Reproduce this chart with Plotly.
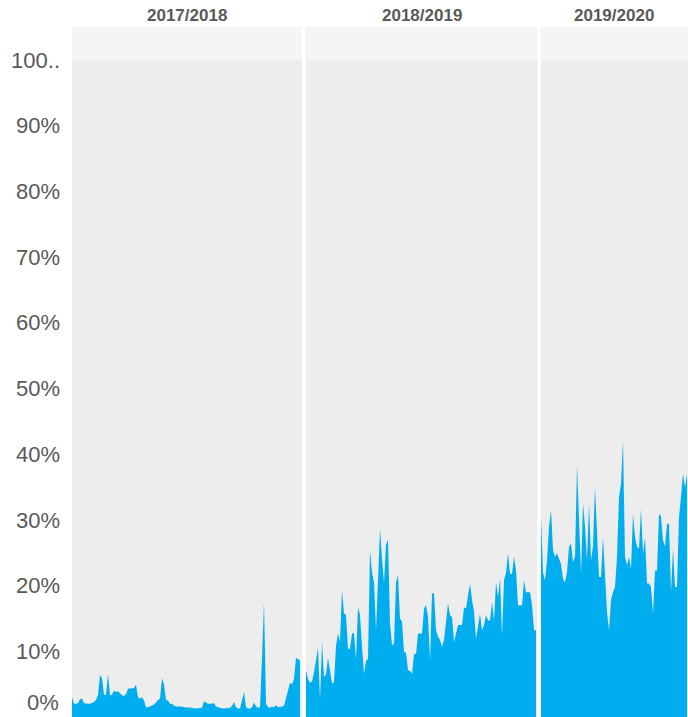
import plotly.graph_objects as go

# share of total per day, in percent, one list per school year
seasons = ["2017/2018", "2018/2019", "2019/2020"]

share_2017 = [
    3.0, 2.0, 2.0, 2.1, 2.7, 2.8, 2.1, 2.0, 2.0, 2.0, 2.1, 2.3, 2.6, 3.3, 6.4, 5.9,
    3.4, 3.4, 6.6, 3.3, 3.4, 4.0, 3.8, 3.9, 3.6, 3.3, 3.2, 3.5, 4.3, 4.3, 4.3, 4.4,
    4.9, 3.0, 2.8, 3.0, 2.5, 1.5, 1.5, 1.6, 1.7, 1.9, 2.2, 2.6, 2.8, 5.9, 5.0, 2.6,
    2.5, 2.0, 2.0, 1.7, 1.6, 1.6, 1.7, 1.6, 1.5, 1.5, 1.4, 1.4, 1.4, 1.3, 1.3, 1.3,
    1.3, 1.4, 2.4, 2.2, 2.0, 2.0, 2.0, 2.1, 1.6, 1.5, 1.3, 1.3, 1.3, 1.3, 1.3, 1.4,
    1.7, 2.3, 1.5, 1.3, 1.3, 2.5, 3.8, 1.5, 1.3, 1.3, 1.5, 2.2, 1.6, 1.4, 1.5, 9.0,
    17.5, 2.0, 1.5, 1.4, 1.6, 1.5, 1.8, 1.5, 1.5, 1.6, 1.7, 3.0, 4.2, 5.2, 5.0, 5.8,
    9.0, 8.8, 8.6,
]

share_2018 = [
    7.1, 5.8, 5.2, 5.4, 6.8, 8.4, 10.5, 2.6, 11.5, 6.1, 6.5, 9.0, 6.6, 5.1, 5.3, 10.8,
    12.7, 11.5, 19.3, 15.7, 15.6, 10.4, 10.4, 12.7, 12.8, 8.8, 16.7, 15.5, 10.7, 6.6,
    8.6, 8.8, 25.4, 22.0, 20.5, 13.2, 20.8, 28.7, 24.0, 20.5, 26.2, 27.0, 14.2, 10.9,
    11.2, 20.5, 21.6, 15.0, 14.5, 9.9, 9.8, 7.1, 7.0, 6.6, 9.6, 9.6, 12.7, 12.7, 12.7,
    16.5, 17.0, 15.2, 8.6, 18.8, 18.8, 13.2, 12.2, 11.7, 10.7, 11.7, 14.5, 17.3, 15.5,
    15.2, 11.4, 12.5, 14.0, 14.0, 14.0, 16.7, 16.5, 18.5, 20.3, 17.8, 16.0, 11.9, 13.5,
    15.7, 13.2, 14.0, 15.5, 14.7, 14.7, 17.5, 14.7, 20.5, 18.3, 21.1, 12.4, 20.8, 22.0,
    24.9, 21.8, 21.8, 24.4, 22.3, 17.0, 17.0, 17.0, 20.8, 19.0, 19.0, 19.0, 17.0, 13.2,
    13.2,
]

share_2019 = [
    30.4, 22.0, 20.8, 23.8, 29.0, 31.5, 25.4, 24.4, 24.9, 24.0, 23.3, 21.0, 20.5, 22.1,
    25.9, 26.4, 23.6, 24.4, 38.3, 30.0, 21.8, 32.5, 29.0, 23.8, 32.5, 23.8, 26.0, 35.0,
    29.0, 21.3, 21.3, 27.4, 21.6, 16.0, 13.2, 17.8, 19.0, 19.8, 24.4, 33.5, 35.5, 42.1,
    24.4, 23.1, 24.4, 22.5, 30.9, 27.4, 25.9, 25.6, 31.7, 24.9, 27.4, 20.3, 20.3, 19.8,
    15.7, 22.3, 22.3, 30.9, 30.5, 26.9, 25.9, 29.4, 29.4, 19.0, 25.6, 19.8, 19.8, 30.4,
    33.5, 37.0, 35.0, 37.0,
]

y_ticks = [10, 20, 30, 40, 50, 60, 70, 80, 90, 100]
y_labels = ["10%", "20%", "30%", "40%", "50%", "60%", "70%", "80%", "90%", "100.."]

series = [share_2017, share_2018, share_2019]
domains = [[0.0, 0.3734], [0.3794, 0.7554], [0.7609, 1.0]]
x_ranges = [[0, 115], [-0.15, 115.65], [-0.15, 73.5]]

blue = "#00AEEF"
grey_txt = "#595959"

fig = go.Figure()
for i, vals in enumerate(series):
    ax = "" if i == 0 else str(i + 1)
    fig.add_trace(go.Scatter(
        x=list(range(len(vals))), y=vals,
        mode="lines", line=dict(width=0, color=blue),
        fill="tozeroy", fillcolor=blue,
        xaxis="x" + ax, yaxis="y" + ax,
        showlegend=False, hoverinfo="skip",
    ))
    fig.update_layout({
        "xaxis" + ax: dict(domain=domains[i], range=x_ranges[i], visible=False,
                           fixedrange=True),
        "yaxis" + ax: dict(range=[0, 105], showgrid=False, zeroline=False,
                           showticklabels=(i == 0), tickvals=y_ticks, ticktext=y_labels,
                           ticks="", ticklabelstandoff=11, automargin=False,
                           tickfont=dict(size=22, color=grey_txt),
                           anchor="x" + ax, fixedrange=True),
    })
    # lighter band above 100%
    fig.add_shape(type="rect", xref="x" + ax + " domain", yref="y" + ax,
                  x0=0, x1=1, y0=100, y1=105, fillcolor="#F5F5F5",
                  line_width=0, layer="below")
    fig.add_annotation(text=seasons[i], xref="paper", yref="paper",
                       x=(domains[i][0] + domains[i][1]) / 2, y=1.017,
                       xanchor="center", yanchor="middle", showarrow=False,
                       font=dict(size=17, color=grey_txt, weight="bold"))

fig.add_annotation(text="0%", xref="paper", yref="paper", x=-0.018, y=0.0,
                   xanchor="right", yanchor="bottom", showarrow=False,
                   font=dict(size=22, color=grey_txt))

fig.update_layout(
    width=688, height=717,
    margin=dict(l=72, r=0, t=27, b=0, pad=0),
    paper_bgcolor="white", plot_bgcolor="#EDEDED",
    font=dict(family="Liberation Sans, Arial, sans-serif"),
)

# page body has an 8px default margin; drop it so the chart sits at the corner
fig.write_html("out.html", config={"displayModeBar": False},
               post_script="document.body.style.margin='0';")
